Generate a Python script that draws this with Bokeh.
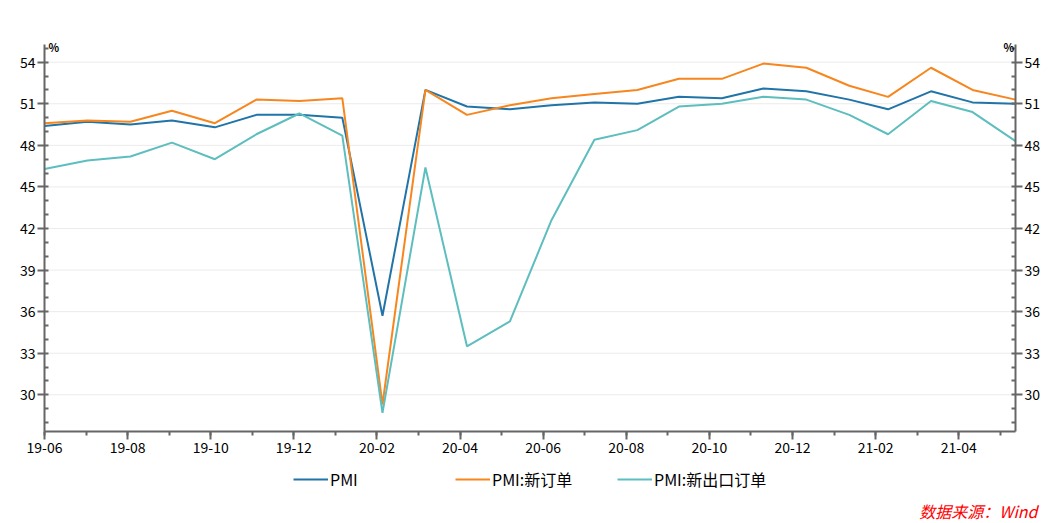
from datetime import datetime, timedelta
import calendar
from bokeh.plotting import figure
from bokeh.models import (Range1d, LinearAxis, DatetimeAxis, FixedTicker, DatetimeTickFormatter,
                          Legend, LegendItem, Label, ColumnDataSource)
from bokeh.embed import file_html
from bokeh.resources import INLINE

# ---- data ----
months = ["2019-06", "2019-07", "2019-08", "2019-09", "2019-10", "2019-11", "2019-12",
          "2020-01", "2020-02", "2020-03", "2020-04", "2020-05", "2020-06", "2020-07",
          "2020-08", "2020-09", "2020-10", "2020-11", "2020-12", "2021-01", "2021-02",
          "2021-03", "2021-04", "2021-05"]
pmi = [49.4, 49.7, 49.5, 49.8, 49.3, 50.2, 50.2, 50.0, 35.7, 52.0, 50.8, 50.6,
       50.9, 51.1, 51.0, 51.5, 51.4, 52.1, 51.9, 51.3, 50.6, 51.9, 51.1, 51.0]
new_orders = [49.6, 49.8, 49.7, 50.5, 49.6, 51.3, 51.2, 51.4, 29.3, 52.0, 50.2, 50.9,
              51.4, 51.7, 52.0, 52.8, 52.8, 53.9, 53.6, 52.3, 51.5, 53.6, 52.0, 51.3]
export_orders = [46.3, 46.9, 47.2, 48.2, 47.0, 48.8, 50.3, 48.7, 28.7, 46.4, 33.5, 35.3,
                 42.6, 48.4, 49.1, 50.8, 51.0, 51.5, 51.3, 50.2, 48.8, 51.2, 50.4, 48.3]
series_names = ["PMI", "PMI:新订单", "PMI:新出口订单"]
colors = ["#2174A8", "#F7861E", "#5EBEBE"]
y_ticks = [30, 33, 36, 39, 42, 45, 48, 51, 54]
y_minor = list(range(28, 56))
y_axis_span = (27.35, 55.28)
source_text = "数据来源：Wind"

W, H = 1062, 523
PLOT_L, PLOT_R = 44, 1015        # pixel positions of the two value axes
PX_54, PX_30 = 61.7, 394.3       # pixel rows of the 54 and 30 ticks


def month_end(s):
    y, m = map(int, s.split("-"))
    return datetime(y, m, calendar.monthrange(y, m)[1])


dates = [month_end(m) for m in months]
src = ColumnDataSource(dict(date=dates, pmi=pmi, no=new_orders, eo=export_orders))

# ranges chosen so the frame fills the canvas while axes sit where the reference has them
t0 = dates[0].timestamp() * 1000
t1 = dates[-1].timestamp() * 1000
ms_per_px = (t1 - t0) / (PLOT_R - PLOT_L)
x_lo = t0 - PLOT_L * ms_per_px
x_hi = t1 + (W - PLOT_R) * ms_per_px
u_per_px = (54 - 30) / (PX_30 - PX_54)
y_hi = 54 + PX_54 * u_per_px
y_lo = 54 - (H - PX_54) * u_per_px

FONT = "Noto Sans CJK SC"
AX = "#666666"

p = figure(width=W, height=H, output_backend="svg", toolbar_location=None,
           x_axis_type=None, y_axis_type=None,
           x_range=Range1d(x_lo, x_hi), y_range=Range1d(y_lo, y_hi),
           min_border=0, min_border_left=0, min_border_right=0,
           min_border_top=0, min_border_bottom=0)
p.outline_line_color = None
p.background_fill_color = "white"
p.xgrid.visible = False
p.ygrid.visible = False

# x axis: ticks every 30 days from the first date, labels every 60 days
span_days = (dates[-1] - dates[0]).days
major = [(dates[0] + timedelta(days=d)).timestamp() * 1000 for d in range(0, span_days + 1, 60)]
minor = [(dates[0] + timedelta(days=d)).timestamp() * 1000 for d in range(0, span_days + 1, 30)]
fmt = "%y-%m"
xa = DatetimeAxis(ticker=FixedTicker(ticks=major, minor_ticks=minor),
                  formatter=DatetimeTickFormatter(milliseconds=fmt, seconds=fmt, minsec=fmt,
                                                  minutes=fmt, hourmin=fmt, hours=fmt,
                                                  days=fmt, months=fmt, years=fmt),
                  fixed_location=y_axis_span[0], bounds=(t0, t1))
xa.axis_line_color = AX
xa.axis_line_width = 2
xa.major_tick_line_color = AX
xa.major_tick_line_width = 2
xa.major_tick_out = 8
xa.major_tick_in = 0
xa.minor_tick_line_color = AX
xa.minor_tick_line_width = 2
xa.minor_tick_out = 4
xa.minor_tick_in = 0
xa.major_label_text_font = FONT
xa.major_label_text_font_size = "14px"
xa.major_label_text_color = "#000000"
xa.major_label_standoff = 2
p.add_layout(xa, "below")

for side, loc in (("left", t0), ("right", t1)):
    ax = LinearAxis(ticker=FixedTicker(ticks=y_ticks, minor_ticks=y_minor),
                    fixed_location=loc, bounds=y_axis_span)
    ax.axis_line_color = AX
    ax.axis_line_width = 2
    ax.major_tick_line_color = AX
    ax.major_tick_line_width = 2
    ax.major_tick_out = 7
    ax.major_tick_in = 0
    ax.minor_tick_line_color = AX
    ax.minor_tick_line_width = 2
    ax.minor_tick_in = 4
    ax.minor_tick_out = 0
    ax.major_label_text_font = FONT
    ax.major_label_text_font_size = "14px"
    ax.major_label_text_color = "#000000"
    ax.major_label_standoff = 2
    p.add_layout(ax, side)

# horizontal grid lines at the major ticks, between the two axes
p.segment(x0=[dates[0]] * len(y_ticks), x1=[dates[-1]] * len(y_ticks), y0=y_ticks, y1=y_ticks,
          line_color="#EBEBEB", line_width=1, level="underlay")

r1 = p.line("date", "pmi", source=src, color=colors[0], line_width=2)
r2 = p.line("date", "no", source=src, color=colors[1], line_width=2)
r3 = p.line("date", "eo", source=src, color=colors[2], line_width=2)

lg = Legend(items=[LegendItem(label=n, renderers=[r]) for n, r in zip(series_names, [r1, r2, r3])],
            location=(293, 32), orientation="horizontal",
            glyph_width=35, glyph_height=20, label_height=20, label_width=125,
            label_standoff=2, padding=0, margin=0, spacing=0, border_line_color=None,
            background_fill_alpha=0, label_text_font=FONT,
            label_text_font_size="16px", label_text_color="#000000")
p.add_layout(lg, "center")

p.add_layout(Label(x=1037, y=H - 510, x_units="screen", y_units="screen", text=source_text,
                   text_font=FONT, text_font_size="16px", text_font_style="italic",
                   text_align="right", text_baseline="middle", text_color="#FF0000"))
for xpos in (48, 1003):
    p.add_layout(Label(x=xpos, y=H - 46, x_units="screen", y_units="screen", text="%",
                       text_font=FONT, text_font_size="11px", text_font_style="bold",
                       text_baseline="middle", text_color="#000000"))

open("out.html", "w").write(file_html(p, INLINE))
